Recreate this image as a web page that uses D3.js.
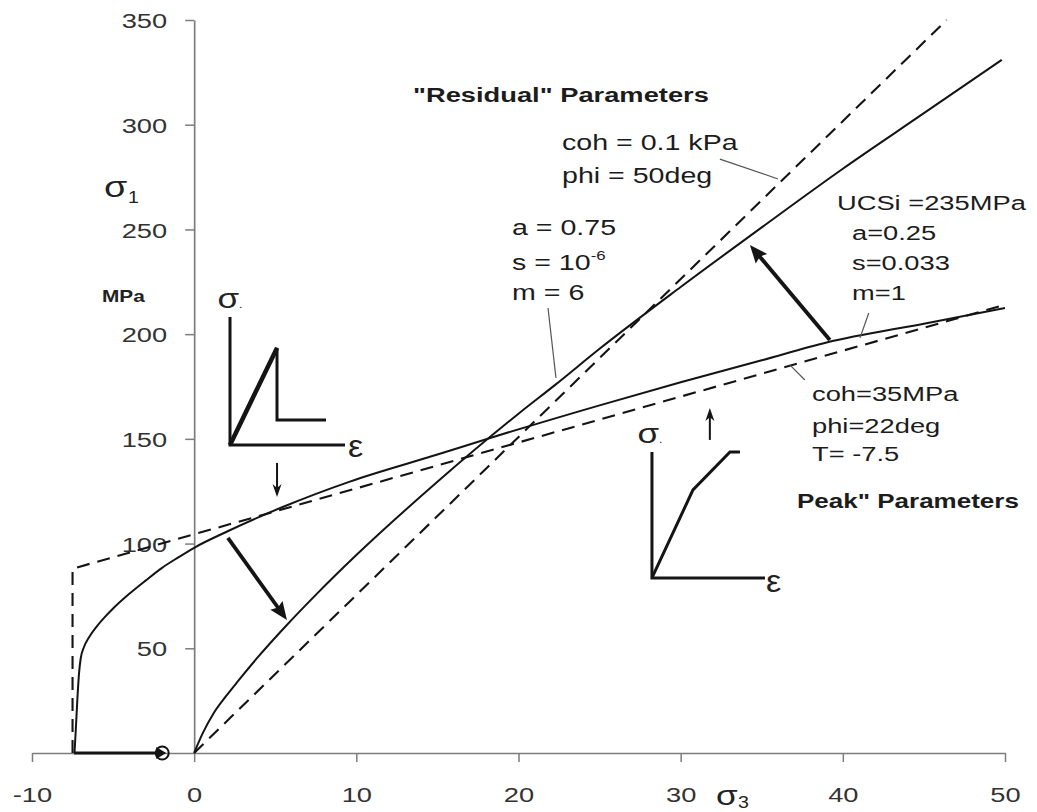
<!DOCTYPE html>
<html>
<head>
<meta charset="utf-8">
<script src="https://cdn.jsdelivr.net/npm/d3@7"></script>
<style>
  html, body { margin: 0; padding: 0; background: #fff; }
  svg { display: block; }
  text { font-family: "Liberation Sans", Arial, Helvetica, sans-serif; }
</style>
</head>
<body>
<svg id="chart" width="1037" height="812"></svg>
<script>
// Hoek-Brown peak envelope (UCSi = 235 MPa, a = 0.25, s = 0.033, m = 1), sigma1 vs sigma3 in MPa
const peakSigma3 = [-7.38, -7.3, -7.2, -7.1, -7.0, -6.8, -6.5, -6.0, -5.5, -5.0, -4.0, -3.0, -2.0, -1.0, 0, 2.1, 5.5, 9.6, 15, 18.5, 25, 30, 35, 39, 45, 50];
const peakSigma1 = [0, 11, 26, 38, 45, 50.5, 55, 60.5, 65, 69, 76, 82.3, 88.3, 93.3, 98, 106, 117.6, 129.6, 142.5, 151, 166, 177, 187.5, 196, 205, 212.5];

// Hoek-Brown residual envelope (a = 0.75, s = 1e-6, m = 6)
const residualSigma3 = [0, 0.5, 1.2, 2.0, 2.7, 3.9, 5.7, 7.5, 10, 15, 20, 22.3, 25, 30, 35, 40, 45, 49.8];
const residualSigma1 = [0, 9, 19, 27.5, 34.3, 45.5, 61, 75.5, 94.5, 129.5, 162, 176, 193, 222.5, 251, 279, 305.5, 331];

// Mohr-Coulomb peak fit (coh = 35 MPa, phi = 22 deg) with tension cut-off T = -7.5
const peakMCSigma3 = [-7.5, -7.5, 50];
const peakMCSigma1 = [0, 88, 214];

// Mohr-Coulomb residual fit (coh = 0.1 kPa, phi = 50 deg)
const residualMCSigma3 = [0, 46.4];
const residualMCSigma1 = [0, 350];

const xTickValues = [-10, 0, 10, 20, 30, 40, 50];
const yTickValues = [50, 100, 150, 200, 250, 300, 350];

const zip = (a, b) => a.map((v, i) => [v, b[i]]);

const svg = d3.select("#chart");
const x = d3.scaleLinear().domain([-10, 50]).range([32, 1005]);
const y = d3.scaleLinear().domain([0, 350]).range([753, 20]);

const AXIS = "#7d7d7d";
const INK = "#141414";
const SX = 1.3; // horizontal stretch applied to all lettering

// ---------- axes ----------
const gx = svg.append("g")
  .attr("transform", `translate(0,${y(0)})`)
  .call(d3.axisBottom(x).tickValues(xTickValues).tickSize(9).tickSizeOuter(0).tickFormat(d => String(d)));
gx.attr("font-family", null).attr("font-size", null);
gx.select(".domain").attr("stroke", AXIS).attr("stroke-width", 1.7);
gx.selectAll(".tick line").attr("stroke", AXIS).attr("stroke-width", 1.5);
gx.selectAll(".tick text")
  .attr("y", null).attr("dy", null)
  .attr("transform", `translate(0,49) scale(${SX},1)`)
  .attr("font-size", 21).attr("fill", "#333");

const gy = svg.append("g")
  .attr("transform", `translate(${x(0)},0)`)
  .call(d3.axisLeft(y).tickValues(yTickValues).tickSize(9).tickSizeOuter(0));
gy.attr("font-family", null).attr("font-size", null);
gy.select(".domain").attr("stroke", AXIS).attr("stroke-width", 1.7);
gy.selectAll(".tick line").attr("stroke", AXIS).attr("stroke-width", 1.5);
gy.selectAll(".tick text")
  .attr("x", null).attr("dy", "0.36em")
  .attr("transform", `translate(-27,0) scale(${SX},1)`)
  .attr("font-size", 21).attr("fill", "#333");

// ---------- envelopes ----------
const line = d3.line().x(d => x(d[0])).y(d => y(d[1]));
const smooth = d3.line().x(d => x(d[0])).y(d => y(d[1])).curve(d3.curveMonotoneX);
const curves = svg.append("g").attr("fill", "none").attr("stroke-linejoin", "round");

curves.append("path").datum(zip(peakMCSigma3, peakMCSigma1))
  .attr("d", line).attr("stroke", INK).attr("stroke-width", 2.1).attr("stroke-dasharray", "13,8");
curves.append("path").datum(zip(residualMCSigma3, residualMCSigma1))
  .attr("d", line).attr("stroke", INK).attr("stroke-width", 2.1).attr("stroke-dasharray", "13,8");
curves.append("path").datum(zip(peakSigma3, peakSigma1))
  .attr("d", smooth).attr("stroke", INK).attr("stroke-width", 2);
curves.append("path").datum(zip(residualSigma3, residualSigma1))
  .attr("d", smooth).attr("stroke", INK).attr("stroke-width", 2);

// ---------- lettering ----------
function label(px, py, str, o = {}) {
  const t = svg.append("text")
    .attr("transform", `translate(${px},${py}) scale(${o.sx || SX},1)`)
    .attr("font-size", o.size || 22)
    .attr("font-weight", o.weight || "normal")
    .attr("text-anchor", o.anchor || "start")
    .attr("fill", o.fill || "#1c1c1c");
  if (o.family) t.attr("font-family", o.family);
  t.text(str);
  return t;
}

// axis titles
label(104, 197, "σ", { size: 29, fill: "#222" });
label(128, 203, "1", { size: 17, fill: "#222", sx: 1.15 });
label(102, 302, "MPa", { size: 16, weight: "bold", fill: "#222" });
label(716, 805, "σ", { size: 27, fill: "#222" });
label(738, 808, "3", { size: 17, fill: "#222", sx: 1.15, family: "Liberation Serif, serif" });

// residual parameters
label(413, 102, "\"Residual\" Parameters", { size: 21, weight: "bold" });
label(562, 150, "coh = 0.1 kPa", { size: 22 });
label(562, 183, "phi = 50deg", { size: 22 });
label(512, 235, "a = 0.75", { size: 22 });
const sTxt = label(512, 270, "s = 10", { size: 22 });
sTxt.append("tspan").attr("font-size", 13).attr("dy", -10).text("-6");
label(512, 300, "m = 6", { size: 22 });

// peak parameters
label(837, 210, "UCSi =235MPa", { size: 21 });
label(852, 240, "a=0.25", { size: 21 });
label(852, 270, "s=0.033", { size: 21 });
label(852, 300, "m=1", { size: 21 });
label(812, 401, "coh=35MPa", { size: 21 });
label(812, 433, "phi=22deg", { size: 21 });
label(812, 461, "T= -7.5", { size: 21 });
label(797, 508, "Peak\" Parameters", { size: 20, weight: "bold" });

// ---------- leader lines (sigma3, sigma1 pairs) ----------
const leaders = [
  [[21.82, 212.5], [22.31, 179.1]],
  [[32.42, 283.6], [36.0, 274.1]],
  [[41.6, 210.1], [41.06, 198.2]],
  [[37.66, 178.1], [36.73, 185.3]]
];
svg.append("g").selectAll("line").data(leaders).join("line")
  .attr("x1", d => x(d[0][0])).attr("y1", d => y(d[0][1]))
  .attr("x2", d => x(d[1][0])).attr("y2", d => y(d[1][1]))
  .attr("stroke", "#555").attr("stroke-width", 1.2);

// ---------- arrows ----------
const arrows = svg.append("g");
function arrow(p0, p1, lw, hl, hw, notch) {
  const x0 = x(p0[0]), y0 = y(p0[1]), x1 = x(p1[0]), y1 = y(p1[1]);
  const dx = x1 - x0, dy = y1 - y0, L = Math.hypot(dx, dy), ux = dx / L, uy = dy / L;
  const bx = x1 - ux * hl, by = y1 - uy * hl;
  arrows.append("line")
    .attr("x1", x0).attr("y1", y0)
    .attr("x2", bx + ux * hl * 0.4).attr("y2", by + uy * hl * 0.4)
    .attr("stroke", INK).attr("stroke-width", lw);
  arrows.append("path")
    .attr("d", `M${x1},${y1}L${bx - uy * hw / 2},${by + ux * hw / 2}` +
               `L${bx + ux * hl * notch},${by + uy * hl * notch}` +
               `L${bx + uy * hw / 2},${by - ux * hw / 2}Z`)
    .attr("fill", INK);
}
arrow([5.11, 138.5], [5.11, 122.2], 2, 13, 9, 0.3);
arrow([2.08, 102.7], [5.72, 63.5], 3.8, 18, 15, 0.15);
arrow([31.8, 149.5], [31.8, 164.7], 2, 13, 9, 0.3);
arrow([39.2, 197.2], [34.27, 242.6], 3.8, 18, 15, 0.15);

// tension cut-off marker along the sigma3 axis
const cut0 = [-7.41, 0], cut1 = [-1.97, 0];
arrows.append("line")
  .attr("x1", x(cut0[0])).attr("y1", y(cut0[1]))
  .attr("x2", x(cut1[0]) - 4).attr("y2", y(cut1[1]))
  .attr("stroke", INK).attr("stroke-width", 3.2);
arrows.append("path")
  .attr("d", `M${x(cut1[0]) + 4},${y(0)}L${x(cut1[0]) - 6},${y(0) - 6}L${x(cut1[0]) - 6},${y(0) + 6}Z`)
  .attr("fill", INK);
arrows.append("circle")
  .attr("cx", x(cut1[0])).attr("cy", y(0)).attr("r", 6.5)
  .attr("fill", "none").attr("stroke", INK).attr("stroke-width", 2);

// ---------- stress-strain sketches ----------
function sketch(origin, axisH, axisW, pathPts, thickFirst, sigmaDx, epsDx, epsDy) {
  const g = svg.append("g").attr("transform", `translate(${x(origin[0])},${y(origin[1])})`);
  g.append("path").attr("d", `M0,${-axisH}V0H${axisW}`)
    .attr("fill", "none").attr("stroke", INK).attr("stroke-width", 3);
  g.append("path").attr("d", d3.line()(pathPts))
    .attr("fill", "none").attr("stroke", INK).attr("stroke-width", 3).attr("stroke-linejoin", "miter");
  if (thickFirst) {
    g.append("path").attr("d", d3.line()(pathPts.slice(0, 2)))
      .attr("fill", "none").attr("stroke", INK).attr("stroke-width", 4.5);
  }
  g.append("text").attr("transform", `translate(${sigmaDx},${-axisH - 9}) scale(1.25,1)`)
    .attr("font-size", 28).attr("text-anchor", "middle").attr("fill", "#222").text("σ")
    .append("tspan").attr("font-size", 10).text(".");
  g.append("text").attr("transform", `translate(${epsDx},${epsDy}) scale(1.1,1)`)
    .attr("font-size", 31).attr("fill", "#222").text("ε");
}
sketch([2.21, 147.1], 128, 115, [[0, 0], [47, -97], [47, -25], [96, -25]], true, 0, 118, 12);
sketch([28.23, 83.6], 126, 113, [[0, 0], [41, -88], [78, -126], [88, -126]], false, -2, 114, 14);
</script>
</body>
</html>
